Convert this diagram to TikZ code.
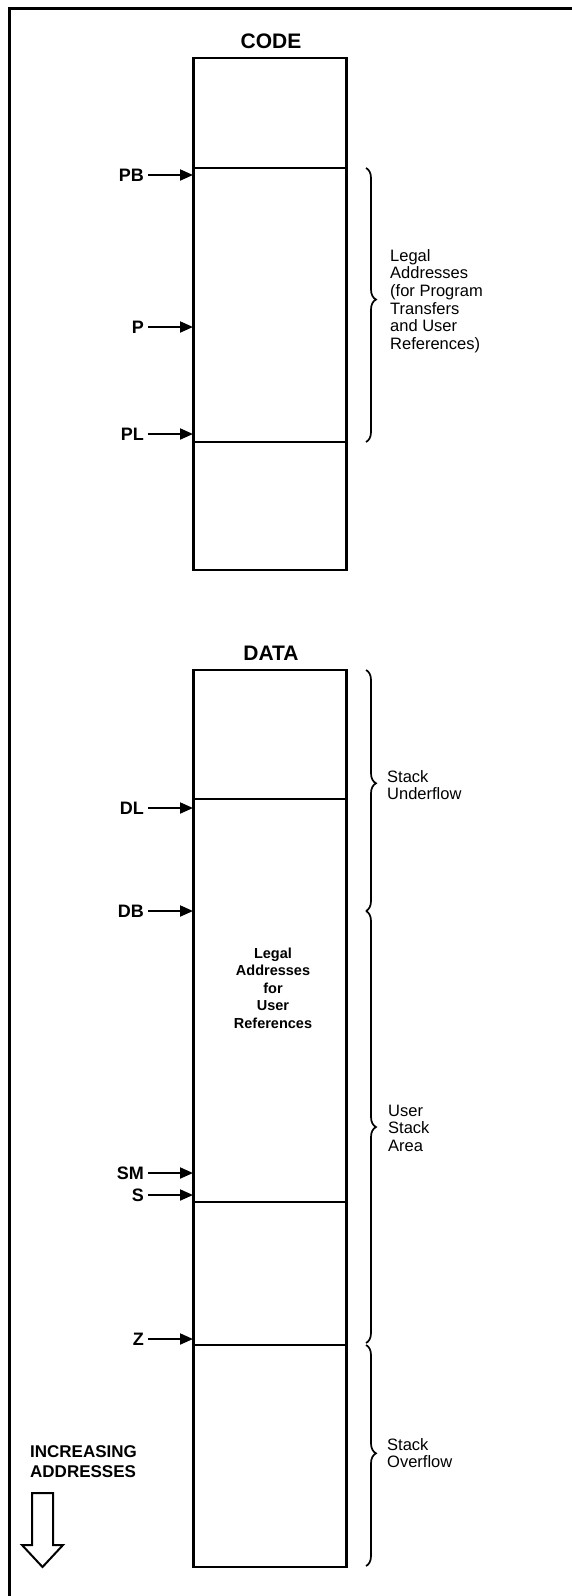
\documentclass[tikz,border=0pt]{standalone}
\usepackage{fontspec}
\setmainfont{Liberation Sans}
\usetikzlibrary{arrows.meta,decorations.pathreplacing}
\begin{document}
\begin{tikzpicture}[x=1pt,y=1pt,
  frame/.style={line width=3pt},
  memblock/.style={draw, line width=2.5pt, minimum width=153pt, inner sep=0pt},
  divider/.style={line width=2pt},
  title/.style={font=\bfseries\fontsize{21}{24}\selectfont, inner sep=0pt},
  ptrlbl/.style={font=\bfseries\fontsize{18}{20}\selectfont, inner sep=0pt, anchor=east},
  ptr/.style={line width=2pt, -{Triangle[length=13pt,width=11pt]}, shorten <=4pt},
  sidetxt/.style={font=\fontsize{16.5}{17.6}\selectfont, align=left, anchor=west, inner sep=0pt},
  innertxt/.style={font=\bfseries\fontsize{14.5}{17.5}\selectfont, align=center, inner sep=0pt},
  bracestyle/.style={line width=1.7pt, decorate, decoration={brace, amplitude=10pt, aspect=#1}},
  bracestyle/.default=0.5,
  hollow/.style={line width=2pt, line join=miter},
]
\useasboundingbox (0,0) rectangle (572,-1596);
% frame (left and top edges visible)
\draw[frame] (9,-1600) -- (9,-8.5) -- (576,-8.5);

% ---- CODE segment ----
\node[title] (codettl) at (271,-41) {CODE};
\node[memblock, minimum height=512pt] (code) at (270,-314) {};
\draw[divider] (193,-168) -- (347,-168);
\draw[divider] (193,-442) -- (347,-442);

\coordinate (tPB) at (193,-175);
\coordinate (tP)  at (193,-327);
\coordinate (tPL) at (193,-434);
\node[ptrlbl] (PB) at (144,-175) {PB};
\node[ptrlbl] (P)  at (144,-327) {P};
\node[ptrlbl] (PL) at (144,-434) {PL};
\draw[ptr] (PB) -- (tPB);
\draw[ptr] (P)  -- (tP);
\draw[ptr] (PL) -- (tPL);

\draw[bracestyle=0.48] (366,-168) -- (366,-442);
\node[sidetxt] (legal) at (390,-301) {Legal\\Addresses\\(for Program\\Transfers\\and User\\References)};

% ---- DATA segment ----
\node[title] (datattl) at (271,-653) {DATA};
\node[memblock, minimum height=897pt] (data) at (270,-1118.5) {};
\draw[divider] (193,-799) -- (347,-799);
\draw[divider] (193,-1202) -- (347,-1202);
\draw[divider] (193,-1345) -- (347,-1345);

\coordinate (tDL) at (193,-808);
\coordinate (tDB) at (193,-911);
\coordinate (tSM) at (193,-1173);
\coordinate (tS)  at (193,-1195);
\coordinate (tZ)  at (193,-1339);
\node[ptrlbl] (DL) at (144,-808) {DL};
\node[ptrlbl] (DB) at (144,-911) {DB};
\node[ptrlbl] (SM) at (144,-1173) {SM};
\node[ptrlbl] (S)  at (144,-1195) {S};
\node[ptrlbl] (Z)  at (144,-1339) {Z};
\draw[ptr] (DL) -- (tDL);
\draw[ptr] (DB) -- (tDB);
\draw[ptr] (SM) -- (tSM);
\draw[ptr] (S)  -- (tS);
\draw[ptr] (Z)  -- (tZ);

\node[innertxt] (inner) at (273,-988) {Legal\\Addresses\\for\\User\\References};

\draw[bracestyle=0.47] (366,-670) -- (366,-911);
\draw[bracestyle=0.5] (366,-911) -- (366,-1343);
\draw[bracestyle=0.49] (366,-1345) -- (366,-1566);
\node[sidetxt] (under) at (387,-785) {Stack\\Underflow};
\node[sidetxt] (usa) at (388,-1128) {User\\Stack\\Area};
\node[sidetxt] (over) at (387,-1453) {Stack\\Overflow};

% ---- increasing addresses ----
\node[font=\bfseries\fontsize{17}{20}\selectfont, align=left, anchor=west, inner sep=0pt] (incr) at (30,-1462) {INCREASING\\ADDRESSES};
\draw[hollow] (32,-1493) -- (53,-1493) -- (53,-1545) -- (63,-1545) -- (42.5,-1567) -- (22,-1545) -- (32,-1545) -- cycle;
\end{tikzpicture}
\end{document}
